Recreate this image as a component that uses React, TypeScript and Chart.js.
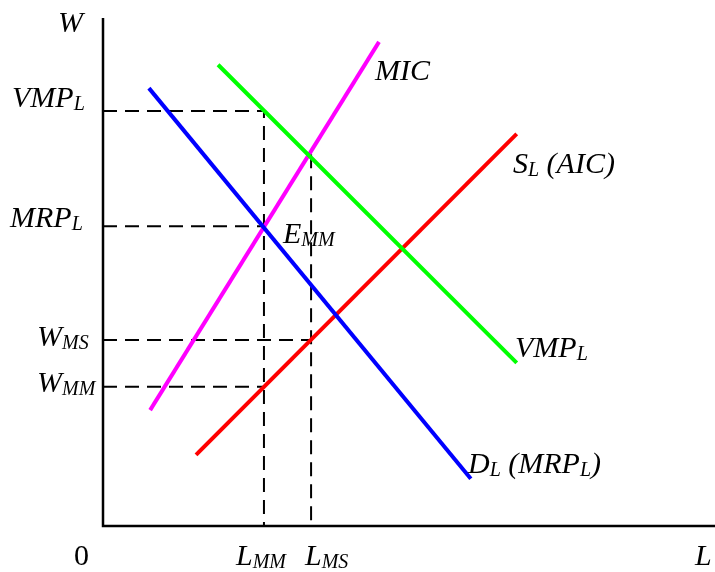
import React, { useEffect, useRef } from "react";
import { Chart, registerables } from "chart.js";

Chart.register(...registerables);

// Curves (L on x, W on y), arbitrary units 0..100
const vmpCurve = [
  { x: 18.8, y: 90.8 },
  { x: 67.6, y: 32.1 },
];
const demandCurve = [
  { x: 7.5, y: 86.2 },
  { x: 60.1, y: 9.3 },
];
const micCurve = [
  { x: 7.7, y: 22.8 },
  { x: 45.1, y: 95.3 },
];
const supplyCurve = [
  { x: 15.2, y: 14.0 },
  { x: 67.6, y: 77.2 },
];

// Key levels
const lMM = 26.3;
const lMS = 34.0;
const wVMP = 81.7;
const wMRP = 59.0;
const wMS = 36.6;
const wMM = 27.4;
const lMSTop = 73.2;

const FONT = '"Liberation Serif", "Times New Roman", serif';

type Part = [string, boolean?];
type Lbl = { x: number; y: number; parts: Part[]; upright?: boolean };

const labels: Lbl[] = [
  { x: 58, y: 32, parts: [["W"]] },
  { x: 12, y: 107, parts: [["VMP"], ["L", true]] },
  { x: 10, y: 227, parts: [["MRP"], ["L", true]] },
  { x: 37, y: 346, parts: [["W"], ["MS", true]] },
  { x: 37, y: 392, parts: [["W"], ["MM", true]] },
  { x: 74, y: 565, parts: [["0"]], upright: true },
  { x: 236, y: 565, parts: [["L"], ["MM", true]] },
  { x: 305, y: 565, parts: [["L"], ["MS", true]] },
  { x: 695, y: 565, parts: [["L"]] },
  { x: 375, y: 80, parts: [["MIC"]] },
  { x: 513, y: 173, parts: [["S"], ["L", true], [" (AIC)"]] },
  { x: 515, y: 357, parts: [["VMP"], ["L", true]] },
  { x: 468, y: 473, parts: [["D"], ["L", true], [" (MRP"], ["L", true], [")"]] },
  { x: 283, y: 243, parts: [["E"], ["MM", true]] },
];

const annotPlugin = {
  id: "annot",
  beforeDatasetsDraw(chart: any) {
    const { ctx, chartArea } = chart;
    ctx.save();
    ctx.strokeStyle = "#000";
    ctx.lineWidth = 2.5;
    ctx.beginPath();
    ctx.moveTo(chartArea.left, chartArea.top);
    ctx.lineTo(chartArea.left, chartArea.bottom);
    ctx.lineTo(chart.width, chartArea.bottom);
    ctx.stroke();
    ctx.restore();
  },
  afterDraw(chart: any) {
    const { ctx } = chart;
    ctx.save();
    ctx.fillStyle = "#000";
    ctx.textBaseline = "alphabetic";
    ctx.textAlign = "left";
    for (const l of labels) {
      let x = l.x;
      const style = l.upright ? "" : "italic ";
      for (const [t, sub] of l.parts) {
        ctx.font = sub ? `${style}20px ${FONT}` : `${style}30px ${FONT}`;
        const yy = sub ? l.y + 3 : l.y;
        ctx.fillText(t, x, yy);
        x += ctx.measureText(t).width;
      }
    }
    ctx.restore();
  },
};

export default function App() {
  const ref = useRef<HTMLCanvasElement>(null);
  useEffect(() => {
    if (!ref.current) return;
    const solid = (data: any[], color: string) => ({
      data,
      borderColor: color,
      backgroundColor: color,
      borderWidth: 4,
      showLine: true,
      pointRadius: 0,
      fill: false,
    });
    const dashed = (data: any[]) => ({
      data,
      borderColor: "#000",
      borderWidth: 2,
      borderDash: [14, 8],
      showLine: true,
      pointRadius: 0,
      fill: false,
    });
    const chart = new Chart(ref.current, {
      type: "scatter",
      data: {
        datasets: [
          solid(vmpCurve, "#00ff00"),
          solid(demandCurve, "#0000ff"),
          solid(micCurve, "#ff00ff"),
          solid(supplyCurve, "#ff0000"),
          dashed([
            { x: 0, y: wVMP },
            { x: lMM, y: wVMP },
            { x: lMM, y: 0 },
          ]),
          dashed([
            { x: 0, y: wMRP },
            { x: lMM, y: wMRP },
          ]),
          dashed([
            { x: 0, y: wMS },
            { x: lMS, y: wMS },
          ]),
          dashed([
            { x: 0, y: wMM },
            { x: lMM, y: wMM },
          ]),
          dashed([
            { x: lMS, y: lMSTop },
            { x: lMS, y: 0 },
          ]),
        ] as any,
      },
      options: {
        responsive: false,
        animation: false,
        devicePixelRatio: 1,
        layout: { padding: { left: 103, top: 18, right: 0, bottom: 46 } },
        plugins: { legend: { display: false }, tooltip: { enabled: false } },
        scales: {
          x: { type: "linear", min: 0, max: 100, display: false },
          y: { type: "linear", min: 0, max: 100, display: false },
        },
      },
      plugins: [annotPlugin],
    });
    return () => chart.destroy();
  }, []);
  return (
    <div style={{ position: "fixed", left: 0, top: 0, width: 715, height: 572, background: "#fff" }}>
      <canvas ref={ref} width={715} height={572} style={{ display: "block" }} />
    </div>
  );
}
